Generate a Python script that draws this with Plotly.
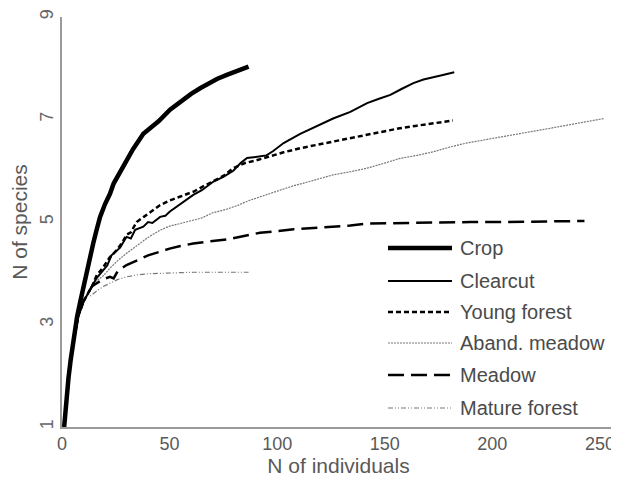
import plotly.graph_objects as go

# ---------------- data ----------------
common_n = [1, 2, 3, 4, 5, 6, 7, 8, 9, 10, 12, 14]
common_s = [1, 1.6, 2.0, 2.35, 2.6, 2.85, 3.05, 3.22, 3.35, 3.45, 3.6, 3.75]

crop_n = [1, 2, 3, 4, 5, 6, 7, 8.5, 10, 11.6, 13, 14.6, 16.1, 17.7, 20, 22.3, 24, 26.2, 29, 33,
          37.8, 41, 45, 50.2, 56.3, 60, 64.2, 68, 72, 76.6, 80, 83, 86.7]
crop_s = [1, 1.55, 1.95, 2.3, 2.6, 2.9, 3.15, 3.45, 3.75, 4.1, 4.35, 4.6, 4.85, 5.1, 5.35, 5.55, 5.75,
          5.92, 6.15, 6.42, 6.72, 6.82, 6.97, 7.19, 7.39, 7.5, 7.61, 7.7, 7.79, 7.87, 7.93, 7.97, 8.03]

clearcut_n = common_n + [16, 19.2, 21, 23, 25, 27, 30, 32, 34, 36, 37.8, 40, 42, 45.6, 48, 50, 53.3, 57,
                         61, 65, 70.4, 75, 79.6, 83, 86, 90, 95, 98, 103, 110.7, 118, 126, 134, 141.8,
                         147, 152.6, 158, 163.3, 168, 172.6, 177, 182.3]
clearcut_s = common_s + [3.9, 4.06, 4.15, 4.35, 4.42, 4.5, 4.71, 4.68, 4.85, 4.88, 4.91, 5.0, 4.98, 5.1,
                         5.12, 5.2, 5.3, 5.42, 5.53, 5.62, 5.79, 5.88, 6.0, 6.15, 6.25, 6.27, 6.3, 6.38,
                         6.54, 6.72, 6.87, 7.02, 7.15, 7.32, 7.4, 7.48, 7.6, 7.71, 7.78, 7.83, 7.87, 7.92]

young_n = common_n + [16, 19.2, 22, 25.4, 28, 30, 32, 34.7, 38, 42, 45.6, 50, 55, 61, 65, 68.8, 75, 79.6,
                      85, 90, 95.2, 103, 110.7, 118, 126, 134, 141.8, 150, 157, 165, 172.6, 181.7]
young_s = common_s + [3.95, 4.12, 4.3, 4.45, 4.6, 4.75, 4.8, 5.0, 5.1, 5.22, 5.33, 5.42, 5.5, 5.59, 5.68,
                      5.77, 5.9, 6.05, 6.15, 6.2, 6.27, 6.36, 6.44, 6.5, 6.57, 6.64, 6.70, 6.77, 6.83,
                      6.88, 6.93, 6.98]

aband_n = common_n + [16, 19.2, 22.3, 26, 30, 35, 40, 45.6, 50, 55, 61, 65, 70, 76.6, 82, 87, 92, 100, 107,
                      115, 120, 126, 134, 141.8, 150, 157, 165, 172.6, 180, 188, 196, 203.7, 211, 219,
                      227, 234.9, 243, 252]
aband_s = common_s + [3.85, 3.95, 4.1, 4.25, 4.39, 4.55, 4.7, 4.84, 4.92, 4.97, 5.04, 5.08, 5.18, 5.25,
                      5.33, 5.42, 5.49, 5.6, 5.7, 5.79, 5.85, 5.92, 5.98, 6.05, 6.15, 6.24, 6.3, 6.37,
                      6.46, 6.54, 6.6, 6.66, 6.72, 6.78, 6.83, 6.89, 6.95, 7.02]

meadow_n = common_n + [16, 19, 22.3, 24, 26, 30, 35, 40, 45.6, 50, 55, 61, 68, 76.6, 84, 92, 100, 107.6,
                       115, 126, 134, 141.8, 155, 172.6, 190, 203.7, 220, 242.8]
meadow_s = common_s + [3.8, 3.88, 3.93, 3.9, 4.05, 4.16, 4.25, 4.35, 4.42, 4.48, 4.53, 4.58, 4.62, 4.66,
                       4.72, 4.79, 4.82, 4.86, 4.88, 4.91, 4.93, 4.97, 4.98, 5.0, 5.0, 5.0, 5.01, 5.02]

mature_n = common_n[:-1] + [13, 16, 19.2, 23, 26, 30, 35, 40, 45.6, 55, 61, 70, 80, 86.7]
mature_s = common_s[:-1] + [3.55, 3.65, 3.74, 3.82, 3.88, 3.93, 3.97, 3.99, 4.0, 4.01, 4.02, 4.02, 4.02, 4.02]

series_names = ["Crop", "Clearcut", "Young forest", "Aband. meadow", "Meadow", "Mature forest"]
x_ticks = [0, 50, 100, 150, 200, 250]
y_ticks = [1, 3, 5, 7, 9]

# ---------------- styles ----------------
styles = {
    "Crop": dict(color="black", width=4.5, dash="solid"),
    "Clearcut": dict(color="black", width=2, dash="solid"),
    "Young forest": dict(color="black", width=2.5, dash="5px,3px"),
    "Aband. meadow": dict(color="#777777", width=1.2, dash="2px,1px"),
    "Meadow": dict(color="black", width=2.5, dash="16px,7px"),
    "Mature forest": dict(color="#777777", width=1.2, dash="5px,2px,1px,2px,1px,2px"),
}
data = {
    "Crop": (crop_n, crop_s),
    "Clearcut": (clearcut_n, clearcut_s),
    "Young forest": (young_n, young_s),
    "Aband. meadow": (aband_n, aband_s),
    "Meadow": (meadow_n, meadow_s),
    "Mature forest": (mature_n, mature_s),
}

fig = go.Figure()
draw_order = ["Mature forest", "Aband. meadow", "Meadow", "Young forest", "Clearcut", "Crop"]
for name in draw_order:
    xs, ys = data[name]
    fig.add_trace(go.Scatter(x=xs, y=ys, mode="lines", name=name, line=styles[name],
                             showlegend=False))

# ---------------- legend (drawn manually) ----------------
txt_col = "#4a4a4a"
font_family = "Liberation Sans, Arial, sans-serif"
row_y = [0.4366, 0.3561, 0.2805, 0.2049, 0.1268, 0.0463]
shapes = []
annots = []
for name, yy in zip(series_names, row_y):
    st = styles[name]
    shapes.append(dict(type="line", xref="paper", yref="paper", x0=0.5895, x1=0.7052, y0=yy, y1=yy,
                       line=dict(color=st["color"], width=st["width"], dash=st["dash"])))
    annots.append(dict(text=name, xref="paper", yref="paper", x=0.7160, y=yy, xanchor="left",
                       yanchor="middle", showarrow=False,
                       font=dict(family=font_family, size=20, color=txt_col)))

# page body has an 8px margin, so the figure is sized 8px smaller
fig.update_layout(
    width=611, height=472,
    margin=dict(l=54, r=4, t=9, b=53, autoexpand=False),
    paper_bgcolor="white", plot_bgcolor="white",
    font=dict(family=font_family, size=18, color="#595959"),
    shapes=shapes, annotations=annots,
    showlegend=False,
    xaxis=dict(range=[0, 257], tickvals=x_ticks, ticktext=[str(v) for v in x_ticks],
               showgrid=False, zeroline=False, showline=True, linecolor="#9a9a9a", linewidth=1.5,
               ticks="", automargin=False,
               title=dict(text="N of individuals", standoff=0,
                          font=dict(size=21, color="#595959")),
               tickfont=dict(size=18, color="#595959")),
    yaxis=dict(range=[1, 9], tickvals=y_ticks, ticktext=[str(v) for v in y_ticks],
               showgrid=False, zeroline=False, showline=True, linecolor="#9a9a9a", linewidth=1.5,
               ticks="", tickangle=-90, automargin=False, ticklabelstandoff=0,
               title=dict(text="N of species", standoff=8, font=dict(size=21, color="#595959")),
               tickfont=dict(size=18, color="#666666")),
)

fig.write_html("out.html")
